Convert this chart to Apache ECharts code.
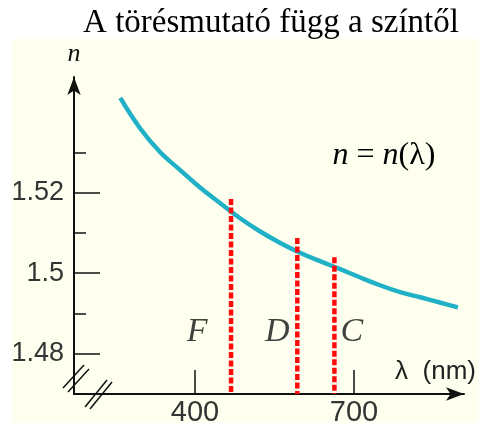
<!DOCTYPE html>
<html>
<head>
<meta charset="utf-8">
<script src="https://cdn.jsdelivr.net/npm/echarts@6/dist/echarts.min.js"></script>
<style>html,body{margin:0;padding:0;background:#fff;}#c{width:479px;height:423px;}</style>
</head>
<body>
<div id="c"></div>
<script>
// ---- data ----
const waveNm  = [259, 296, 334, 372, 409, 447, 485, 523, 560, 598, 636, 674, 711, 749, 787, 825, 862, 896];
const nValues = [1.5437, 1.5362, 1.5302, 1.5257, 1.5214, 1.5175, 1.5137, 1.5104, 1.5076, 1.5051, 1.5030, 1.5010, 1.4990, 1.4970, 1.4953, 1.4940, 1.4927, 1.4915];
const lineNames = ['F', 'D', 'C'];
const lineNm    = [468, 593, 663];
const lineTopN  = [1.5185, 1.5088, 1.5040];
const labelNm   = [404, 555, 696];
const labelN    = 1.4853;
const yMajorTicks = [1.48, 1.5, 1.52];
const yMinorTicks = [1.49, 1.51, 1.53];
const xTicks = [400, 700];
const titleText = 'A törésmutató függ a színtől';

const xMin = 171.7, xMax = 907.5;
const yMin = 1.4699, yMax = 1.5489;

const chart = echarts.init(document.getElementById('c'), null, {renderer: 'canvas'});
const axisColor = '#111';
const sans = 'Liberation Sans';
const serif = 'Liberation Serif';

const redSeries = lineNm.map((x, i) => ({
  type: 'line',
  name: lineNames[i],
  data: [[x, lineTopN[i]], [x, yMin]],
  symbol: 'none',
  silent: true,
  z: 5,
  lineStyle: {color: '#ff0a0a', width: 4.5, type: [6, 2.5]}
}));

chart.setOption({
  animation: false,
  backgroundColor: '#ffffff',
  title: {
    text: titleText, left: 266, top: 2, textAlign: 'center',
    textStyle: {fontFamily: serif, fontSize: 33, fontWeight: 'normal', color: '#000'}
  },
  grid: {left: 74, right: 15, top: 77, bottom: 29, containLabel: false, outerBoundsMode: 'none'},
  xAxis: {
    type: 'value', min: xMin, max: xMax,
    axisLine: {show: true, onZero: false, symbol: ['none', 'arrow'], symbolSize: [10, 18], lineStyle: {color: axisColor, width: 2}},
    axisTick: {show: true, inside: true, length: 24, customValues: xTicks, lineStyle: {color: axisColor, width: 1.5}},
    axisLabel: {show: true, customValues: xTicks, margin: 4, fontFamily: sans, fontSize: 29, color: '#333'},
    splitLine: {show: false}
  },
  yAxis: [{
    type: 'value', min: yMin, max: yMax, position: 'left',
    axisLine: {show: true, onZero: false, symbol: ['none', 'arrow'], symbolSize: [10, 18], lineStyle: {color: axisColor, width: 2}},
    axisTick: {show: true, inside: true, length: 26, customValues: yMajorTicks, lineStyle: {color: axisColor, width: 1.5}},
    axisLabel: {show: true, customValues: yMajorTicks, margin: 10, fontFamily: sans, fontSize: 27, color: '#333'},
    splitLine: {show: false},
    name: 'n', nameLocation: 'end', nameGap: 10,
    nameTextStyle: {fontFamily: serif, fontStyle: 'italic', fontSize: 26, color: '#111'}
  }, {
    type: 'value', min: yMin, max: yMax, position: 'left', offset: 0,
    axisLine: {show: false, onZero: false},
    axisTick: {show: true, inside: true, length: 12, customValues: yMinorTicks, lineStyle: {color: axisColor, width: 1.5}},
    axisLabel: {show: false},
    splitLine: {show: false}
  }],
  graphic: [
    {type: 'rect', z: -100, silent: true, shape: {x: 12, y: 39, width: 467, height: 384}, style: {fill: '#fffff0'}},
    {type: 'line', z: 100, shape: {x1: 63, y1: 388, x2: 84, y2: 365}, style: {stroke: '#111', lineWidth: 1.5}},
    {type: 'line', z: 100, shape: {x1: 68, y1: 392, x2: 89, y2: 369}, style: {stroke: '#111', lineWidth: 1.5}},
    {type: 'line', z: 100, shape: {x1: 85, y1: 407, x2: 107, y2: 380}, style: {stroke: '#111', lineWidth: 1.5}},
    {type: 'line', z: 100, shape: {x1: 90, y1: 409, x2: 112, y2: 382}, style: {stroke: '#111', lineWidth: 1.5}},
    {type: 'text', z: 100, x: 384, y: 156, style: {
      text: '{i|n} = {i|n}(λ)', align: 'center', verticalAlign: 'middle',
      font: '32px "Liberation Serif"', fill: '#000',
      rich: {i: {fontStyle: 'italic', fontFamily: serif, fontSize: 32}}
    }},
    {type: 'text', z: 100, x: 476, y: 372, style: {
      text: 'λ  (nm)', align: 'right', verticalAlign: 'middle',
      font: '26px "Liberation Sans"', fill: '#222'
    }}
  ],
  series: [{
    type: 'line', name: 'n(λ)',
    data: waveNm.map((x, i) => [x, nValues[i]]),
    smooth: 0.4, symbol: 'none', silent: true, z: 3,
    lineStyle: {color: '#20b1c7', width: 4.5}
  }].concat(redSeries).concat([{
    type: 'scatter', name: 'labels',
    data: labelNm.map((x, i) => ({value: [x, labelN], name: lineNames[i]})),
    symbolSize: 0, silent: true, z: 6,
    label: {show: true, position: 'inside', formatter: p => p.name,
      fontFamily: serif, fontStyle: 'italic', fontSize: 34, color: '#111'}
  }])
});
</script>
</body>
</html>
